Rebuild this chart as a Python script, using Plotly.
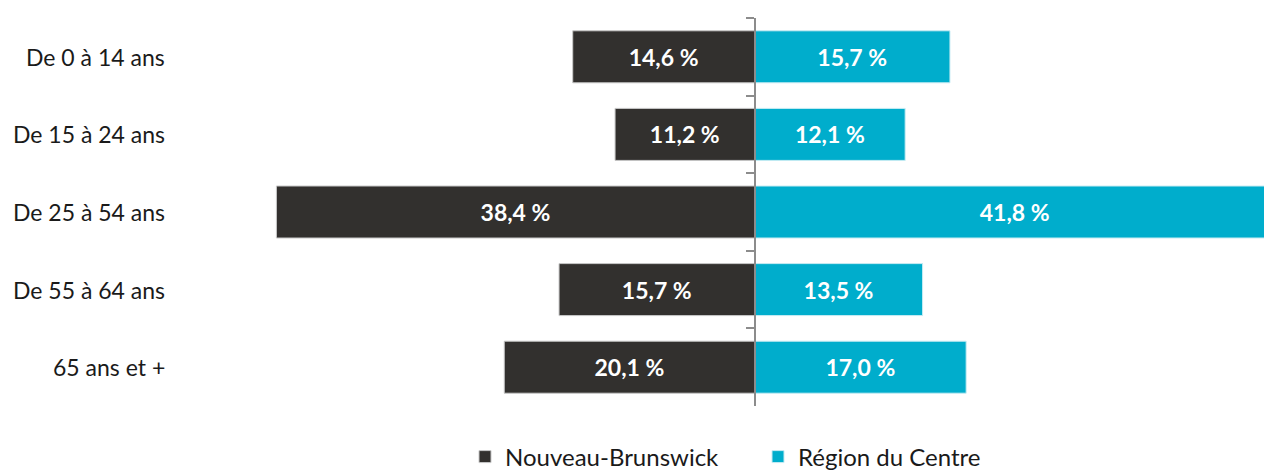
import plotly.graph_objects as go

categories = ["De 0 à 14 ans", "De 15 à 24 ans", "De 25 à 54 ans", "De 55 à 64 ans", "65 ans et +"]
nb_values = [14.6, 11.2, 38.4, 15.7, 20.1]
centre_values = [15.7, 12.1, 41.8, 13.5, 17.0]
series_names = ["Nouveau-Brunswick", "Région du Centre"]

def fmt(v):
    return f"{v:.1f}".replace(".", ",") + " %"

W, H = 1264, 473
center_px = 754.5
px_per = 12.45
x_min = -center_px / px_per
x_max = (W - center_px) / px_per
FONT = "Lato"

fig = go.Figure()
fig.add_trace(go.Bar(
    y=categories, x=[-v for v in nb_values], orientation="h", name=series_names[0],
    marker=dict(color="#32302e", line=dict(color="#c8c8c8", width=1)),
    text=[fmt(v) for v in nb_values], textposition="inside", insidetextanchor="middle",
    textfont=dict(color="white", size=23, family=FONT, weight="bold"),
    hoverinfo="skip",
))
fig.add_trace(go.Bar(
    y=categories, x=centre_values, orientation="h", name=series_names[1],
    marker=dict(color="#00adcc", line=dict(color="#c8ecf3", width=1)),
    text=[fmt(v) for v in centre_values], textposition="inside", insidetextanchor="middle",
    textfont=dict(color="white", size=23, family=FONT, weight="bold"),
    hoverinfo="skip",
))

for c in categories:
    fig.add_annotation(x=167 / W, xref="paper", y=c, yref="y", text=c, showarrow=False,
                       xanchor="right", yanchor="middle",
                       font=dict(size=23, family=FONT, color="#1a1a1a"))

fig.update_layout(
    width=W, height=H,
    barmode="overlay", bargap=0.33,
    margin=dict(l=0, r=0, t=18, b=67, autoexpand=False),
    plot_bgcolor="white", paper_bgcolor="white",
    xaxis=dict(range=[x_min, x_max], showgrid=False, zeroline=False, showticklabels=False,
               showline=False, fixedrange=True),
    yaxis=dict(type="category", categoryorder="array", categoryarray=categories,
               autorange="reversed", showgrid=False, zeroline=False, showticklabels=False,
               showline=True, linecolor="#8c8c8c", linewidth=1.5,
               ticks="outside", tickson="boundaries", ticklen=8, tickcolor="#8c8c8c", tickwidth=1.5,
               anchor="free", position=center_px / W, fixedrange=True),
    legend=dict(orientation="h", x=465 / W, xanchor="left",
                yref="container", y=1 - 457 / H, yanchor="middle",
                font=dict(size=24, family=FONT, color="#1a1a1a"),
                itemwidth=30, entrywidth=248, entrywidthmode="pixels"),
    showlegend=True,
    uniformtext=dict(mode="show", minsize=18),
)

fig.write_html("out.html", config={"displayModeBar": False},
               post_script="document.body.style.margin='0';document.body.style.overflow='hidden';")
